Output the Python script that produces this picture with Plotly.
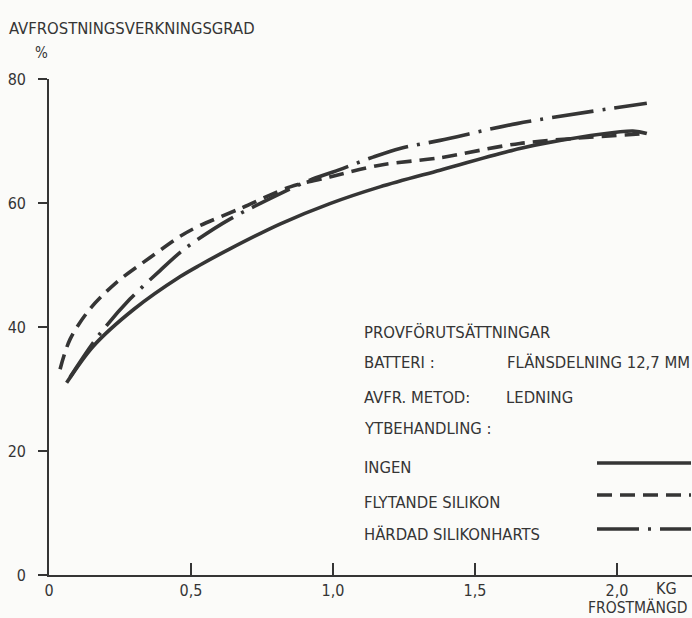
import plotly.graph_objects as go

# ---- data ----
ingen_x = [0.062, 0.156, 0.30, 0.461, 0.532, 0.637, 0.813, 0.989, 1.165, 1.377, 1.658, 1.752, 2.056, 2.105]
ingen_y = [31.0, 36.9, 42.9, 48.1, 50.0, 52.6, 56.6, 59.9, 62.6, 65.3, 68.8, 69.7, 71.6, 71.2]

flyt_x = [0.039, 0.074, 0.144, 0.238, 0.356, 0.461, 0.52, 0.673, 0.849, 0.989, 1.165, 1.377, 1.658, 2.105]
flyt_y = [33.2, 38.0, 42.9, 47.2, 51.2, 54.6, 56.1, 59.1, 62.6, 64.2, 66.1, 67.3, 69.6, 71.2]

hard_x = [0.074, 0.174, 0.285, 0.391, 0.461, 0.52, 0.637, 0.778, 0.919, 1.0, 1.141, 1.236, 1.377, 1.647, 2.105]
hard_y = [31.9, 38.6, 44.5, 49.1, 52.0, 54.0, 57.4, 60.7, 63.7, 65.0, 67.4, 68.8, 70.1, 72.8, 76.1]

x_tickvals = [0, 0.5, 1.0, 1.5, 2.0]
x_ticktext = ["0", "0,5", "1,0", "1,5", "2,0"]
y_tickvals = [0, 20, 40, 60, 80]
y_ticktext = ["0", "20", "40", "60", "80"]

series_names = ["INGEN", "FLYTANDE SILIKON", "HÄRDAD SILIKONHARTS"]

# ---- layout constants ----
W, H = 692, 618
L, R, T, B = 49, 0, 79, 43
INK = "#353535"
FONT = "DejaVu Sans Condensed, Liberation Sans Narrow, Roboto Condensed, DejaVu Sans"
DASHED = "15px,8px"
DASHDOT = "42px,9px,3px,9px"
LW = 3.6


def px2paper(px, py):
    return (px - L) / (W - L - R), (H - B - py) / (H - T - B)


fig = go.Figure()
styles = [("solid", ingen_x, ingen_y), (DASHED, flyt_x, flyt_y), (DASHDOT, hard_x, hard_y)]
for name, (dash, xs, ys) in zip(series_names, styles):
    fig.add_trace(go.Scatter(
        x=xs, y=ys, mode="lines", name=name,
        line=dict(color=INK, width=LW, dash=dash, shape="spline", smoothing=0.9),
        showlegend=False,
    ))

annotations = []


def text(px, py, s, size=16.5, anchor="left"):
    xp, yp = px2paper(px, py)
    annotations.append(dict(x=xp, y=yp, xref="paper", yref="paper", text=s, showarrow=False,
                            xanchor=anchor, yanchor="middle",
                            font=dict(family=FONT, size=size, color=INK)))


text(7, 28, "AVFROSTNINGSVERKNINGSGRAD", 16.5)
text(41, 53, "%", 15, "center")
text(654, 588, "KG", 16)
text(690, 607, "FROSTMÄNGD", 15.5, "right")

text(362, 332, "PROVFÖRUTSÄTTNINGAR")
text(362, 363, "BATTERI :")
text(505, 363, "FLÄNSDELNING 12,7 MM")
text(362, 397, "AVFR. METOD:")
text(504, 397, "LEDNING")
text(362, 429, "YTBEHANDLING :")
text(362, 467, series_names[0])
text(362, 502, series_names[1])
text(362, 534, series_names[2])

shapes = []
for py, dash in [(463, "solid"), (495, DASHED), (529, DASHDOT)]:
    x0, y0 = px2paper(597, py)
    x1, _ = px2paper(691, py)
    shapes.append(dict(type="line", xref="paper", yref="paper", x0=x0, x1=x1, y0=y0, y1=y0,
                       line=dict(color=INK, width=LW, dash=dash)))

fig.update_layout(
    width=W, height=H,
    margin=dict(l=L, r=R, t=T, b=B),
    paper_bgcolor="#fbfbf9", plot_bgcolor="#fbfbf9",
    font=dict(family=FONT, size=16, color=INK),
    annotations=annotations, shapes=shapes,
    xaxis=dict(range=[0, (W - L - R) / 284.0], tickvals=x_tickvals, ticktext=x_ticktext,
               showgrid=False, zeroline=False, showline=True, linecolor=INK, linewidth=1.6,
               ticks="inside", ticklen=12, tickwidth=1.6, tickcolor=INK,
               tickfont=dict(size=16, family=FONT, color=INK)),
    yaxis=dict(range=[0, 80], tickvals=y_tickvals, ticktext=y_ticktext,
               showgrid=False, zeroline=False, showline=True, linecolor=INK, linewidth=1.6,
               ticks="outside", ticklen=9, tickwidth=1.6, tickcolor=INK,
               ticklabelstandoff=9,
               tickfont=dict(size=16, family=FONT, color=INK)),
)

fig.write_html("out.html")
